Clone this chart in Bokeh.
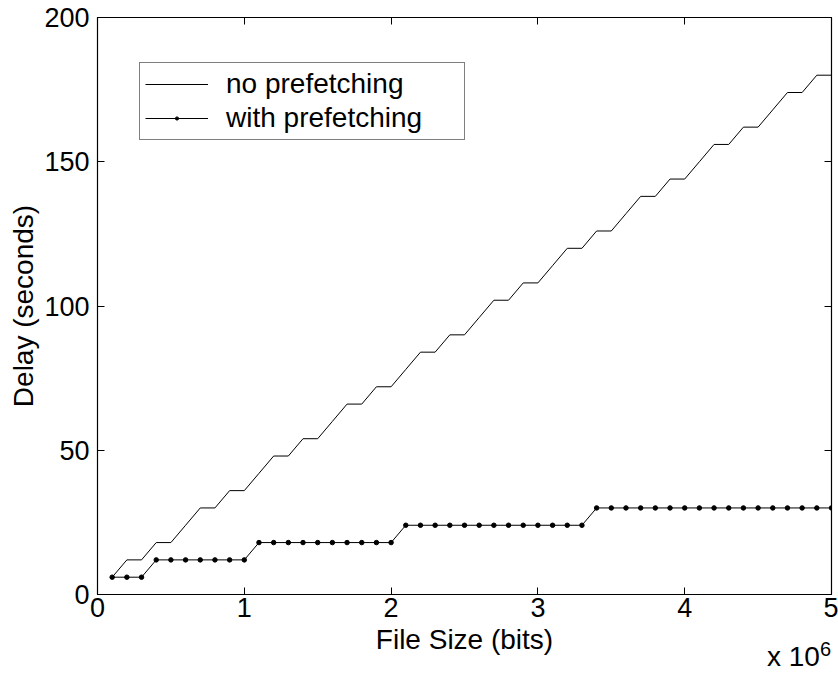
from bokeh.plotting import figure
from bokeh.layouts import column
from bokeh.models import (Range1d, LinearAxis, FixedTicker, Legend, LegendItem, Div)
from bokeh.embed import file_html
from bokeh.resources import INLINE

# File size in units of 10^6 bits
file_size = [0.1, 0.2, 0.3, 0.4, 0.5, 0.6, 0.7, 0.8, 0.9, 1.0,
             1.1, 1.2, 1.3, 1.4, 1.5, 1.6, 1.7, 1.8, 1.9, 2.0,
             2.1, 2.2, 2.3, 2.4, 2.5, 2.6, 2.7, 2.8, 2.9, 3.0,
             3.1, 3.2, 3.3, 3.4, 3.5, 3.6, 3.7, 3.8, 3.9, 4.0,
             4.1, 4.2, 4.3, 4.4, 4.5, 4.6, 4.7, 4.8, 4.9, 5.0]

# Delay in seconds without prefetching
delay_no_prefetch = [6, 12, 12, 18, 18, 24, 30, 30, 36, 36,
                     42, 48, 48, 54, 54, 60, 66, 66, 72, 72,
                     78, 84, 84, 90, 90, 96, 102, 102, 108, 108,
                     114, 120, 120, 126, 126, 132, 138, 138, 144, 144,
                     150, 156, 156, 162, 162, 168, 174, 174, 180, 180]

# Delay in seconds with prefetching
delay_prefetch = [6, 6, 6, 12, 12, 12, 12, 12, 12, 12,
                  18, 18, 18, 18, 18, 18, 18, 18, 18, 18,
                  24, 24, 24, 24, 24, 24, 24, 24, 24, 24,
                  24, 24, 24, 30, 30, 30, 30, 30, 30, 30,
                  30, 30, 30, 30, 30, 30, 30, 30, 30, 30]

x_ticks = [0, 1, 2, 3, 4, 5]
y_ticks = [0, 50, 100, 150, 200]

FONT = "Liberation Sans"
TICK_SIZE = "27px"
LABEL_SIZE = "28px"

p = figure(width=838, height=675,
           x_range=Range1d(0, 5), y_range=Range1d(0, 200),
           output_backend="svg", toolbar_location=None,
           min_border_left=97, min_border_right=7,
           min_border_top=17, min_border_bottom=81,
           background_fill_color="white", border_fill_color="white")

p.xgrid.visible = False
p.ygrid.visible = False
p.outline_line_color = "black"
p.outline_line_width = 1.2

for ax, ticks, standoff in ((p.xaxis, x_ticks, 3), (p.yaxis, y_ticks, 8)):
    ax.ticker = FixedTicker(ticks=ticks)
    ax.major_tick_in = 7
    ax.major_tick_out = 0
    ax.minor_tick_in = 0
    ax.minor_tick_out = 0
    ax.major_label_standoff = standoff
    ax.major_label_text_font = FONT
    ax.major_label_text_font_size = TICK_SIZE
    ax.major_label_text_color = "black"
    ax.axis_line_color = "black"
    ax.major_tick_line_color = "black"
    ax.axis_label_text_font = FONT
    ax.axis_label_text_font_size = LABEL_SIZE
    ax.axis_label_text_font_style = "normal"
    ax.axis_label_text_color = "black"

p.xaxis.axis_label = "File Size (bits)"
p.xaxis.axis_label_standoff = 4
p.yaxis.axis_label = "Delay (seconds)"
p.yaxis.axis_label_standoff = 2

# Tick marks on the top and right edges of the box
top_axis = LinearAxis(ticker=FixedTicker(ticks=x_ticks), major_tick_in=7,
                      major_tick_out=0, minor_tick_in=0, minor_tick_out=0,
                      major_label_text_font_size="0px", major_label_standoff=0,
                      axis_line_color="black", major_tick_line_color="black")
right_axis = LinearAxis(ticker=FixedTicker(ticks=y_ticks), major_tick_in=7,
                        major_tick_out=0, minor_tick_in=0, minor_tick_out=0,
                        major_label_text_font_size="0px", major_label_standoff=0,
                        axis_line_color="black", major_tick_line_color="black")
p.add_layout(top_axis, "above")
p.add_layout(right_axis, "right")

l1 = p.line(file_size, delay_no_prefetch, line_color="black", line_width=1)
l2 = p.line(file_size, delay_prefetch, line_color="black", line_width=1)
s2 = p.scatter(file_size, delay_prefetch, size=4.5, marker="circle",
               fill_color="black", line_color="black")

legend = Legend(items=[LegendItem(label="no prefetching", renderers=[l1]),
                       LegendItem(label="with prefetching", renderers=[l2, s2])],
                location=(42, 454),
                border_line_color="black", border_line_width=1,
                background_fill_color="white", background_fill_alpha=1,
                label_text_font=FONT, label_text_font_size=LABEL_SIZE,
                label_text_color="black",
                glyph_width=63, glyph_height=8, label_height=28,
                label_standoff=18, padding=5, spacing=2, margin=0,
                label_width=233)
p.add_layout(legend)

# Scale factor note for the x axis, tucked under the lower right corner
scale_note = Div(
    text=('<span style="font-family:\'Liberation Sans\';font-size:28px;'
          'line-height:31px;color:black;white-space:nowrap">x 10'
          '<sup style="font-size:20px;line-height:0">6</sup></span>'),
    width=71, height=31, margin=(-34, 0, 0, 767))

layout = column(p, scale_note, spacing=0)

open("out.html", "w").write(file_html(layout, INLINE))
